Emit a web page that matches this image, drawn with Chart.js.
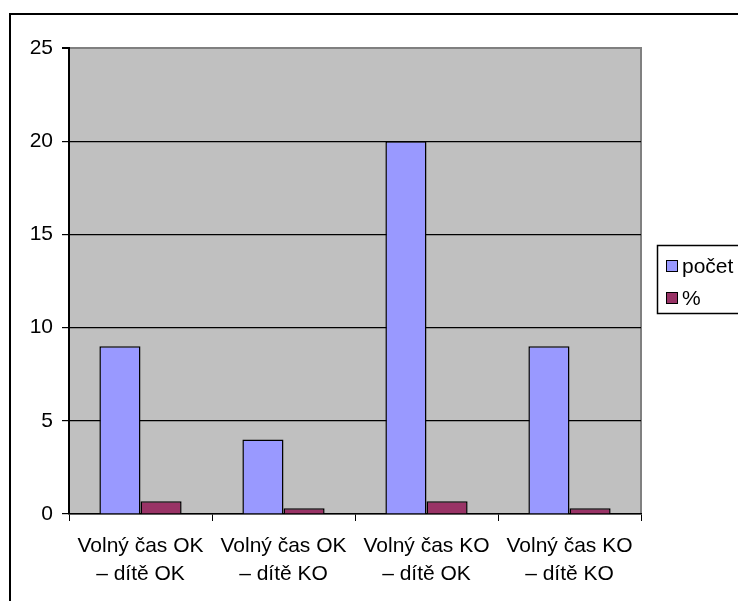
<!DOCTYPE html>
<html>
<head>
<meta charset="utf-8">
<script src="https://cdn.jsdelivr.net/npm/chart.js@4"></script>
<style>
  html, body { margin: 0; padding: 0; background: #fff; }
  #wrap { width: 738px; height: 601px; position: relative; }
</style>
</head>
<body>
<div id="wrap"><canvas id="c"></canvas></div>
<script>
const categories = [
    ['Volný čas OK', '– dítě OK'],
    ['Volný čas OK', '– dítě KO'],
    ['Volný čas KO', '– dítě OK'],
    ['Volný čas KO', '– dítě KO']
];
const pocet = [9, 4, 20, 9];
const procenta = [0.69, 0.31, 0.69, 0.31];
const yTicks = [0, 5, 10, 15, 20, 25];

const FONT = "'Liberation Sans', Arial, sans-serif";

// frame, grey plot background and its grey top/right edge
const backdrop = {
    id: 'backdrop',
    beforeDraw(chart) {
        const ctx = chart.ctx;
        const a = chart.chartArea;
        ctx.save();
        ctx.strokeStyle = '#000';
        ctx.lineWidth = 2;
        ctx.beginPath();
        ctx.moveTo(10, 700);
        ctx.lineTo(10, 14);
        ctx.lineTo(800, 14);
        ctx.stroke();
        ctx.fillStyle = '#c0c0c0';
        ctx.fillRect(a.left, a.top, a.right - a.left, a.bottom - a.top);
        ctx.strokeStyle = '#808080';
        ctx.lineWidth = 2;
        ctx.beginPath();
        ctx.moveTo(a.left, a.top);
        ctx.lineTo(a.right, a.top);
        ctx.lineTo(a.right, a.bottom);
        ctx.stroke();
        ctx.restore();
    }
};

// boxed legend on the right
const boxLegend = {
    id: 'boxLegend',
    afterDraw(chart) {
        const ctx = chart.ctx;
        const x = 657, y = 245, w = 90, h = 68;
        ctx.save();
        ctx.fillStyle = '#fff';
        ctx.fillRect(x, y, w, h);
        ctx.strokeStyle = '#000';
        ctx.lineWidth = 1.5;
        ctx.strokeRect(x + 0.5, y + 0.5, w, h);
        ctx.font = '21px ' + FONT;
        ctx.textBaseline = 'middle';
        chart.data.datasets.forEach((ds, i) => {
            const cy = y + 21 + i * 32;
            ctx.fillStyle = ds.backgroundColor;
            ctx.fillRect(666, cy - 5, 11, 11);
            ctx.strokeStyle = '#000';
            ctx.lineWidth = 1;
            ctx.strokeRect(666.5, cy - 5.5, 11, 11);
            ctx.fillStyle = '#000';
            ctx.fillText(ds.label, 682, cy + 1);
        });
        ctx.restore();
    }
};

new Chart(document.getElementById('c'), {
    type: 'bar',
    data: {
        labels: categories,
        datasets: [
            { label: 'počet', data: pocet, backgroundColor: '#9999ff', borderColor: '#000', borderWidth: 1.5 },
            { label: '%', data: procenta, backgroundColor: '#993366', borderColor: '#000', borderWidth: 1.5 }
        ]
    },
    options: {
        responsive: true,
        maintainAspectRatio: false,
        animation: false,
        categoryPercentage: 0.575,
        barPercentage: 1,
        layout: { padding: { left: 0, top: 48, right: 97, bottom: 0 } },
        plugins: {
            legend: { display: false },
            tooltip: { enabled: false }
        },
        scales: {
            x: {
                grid: { offset: true, drawOnChartArea: false, tickLength: 7, color: '#000', lineWidth: 1 },
                border: { color: '#000', width: 1.5 },
                ticks: { color: '#000', font: { family: FONT, size: 21, lineHeight: 1.3 }, padding: 12, maxRotation: 0, autoSkip: false },
                afterFit(scale) { scale.height = 87; }
            },
            y: {
                min: 0,
                max: 25,
                afterBuildTicks(scale) { scale.ticks = yTicks.map(v => ({ value: v })); },
                grid: {
                    tickLength: 7,
                    tickColor: '#000',
                    color: c => (c.tick && c.tick.value === 25 ? '#808080' : '#000'),
                    lineWidth: c => (c.tick && c.tick.value === 25 ? 2 : 1.2)
                },
                border: { color: '#000', width: 2 },
                ticks: { color: '#000', font: { family: FONT, size: 21 }, padding: 9 },
                afterFit(scale) { scale.width = 69; }
            }
        }
    },
    plugins: [backdrop, boxLegend]
});
</script>
</body>
</html>
